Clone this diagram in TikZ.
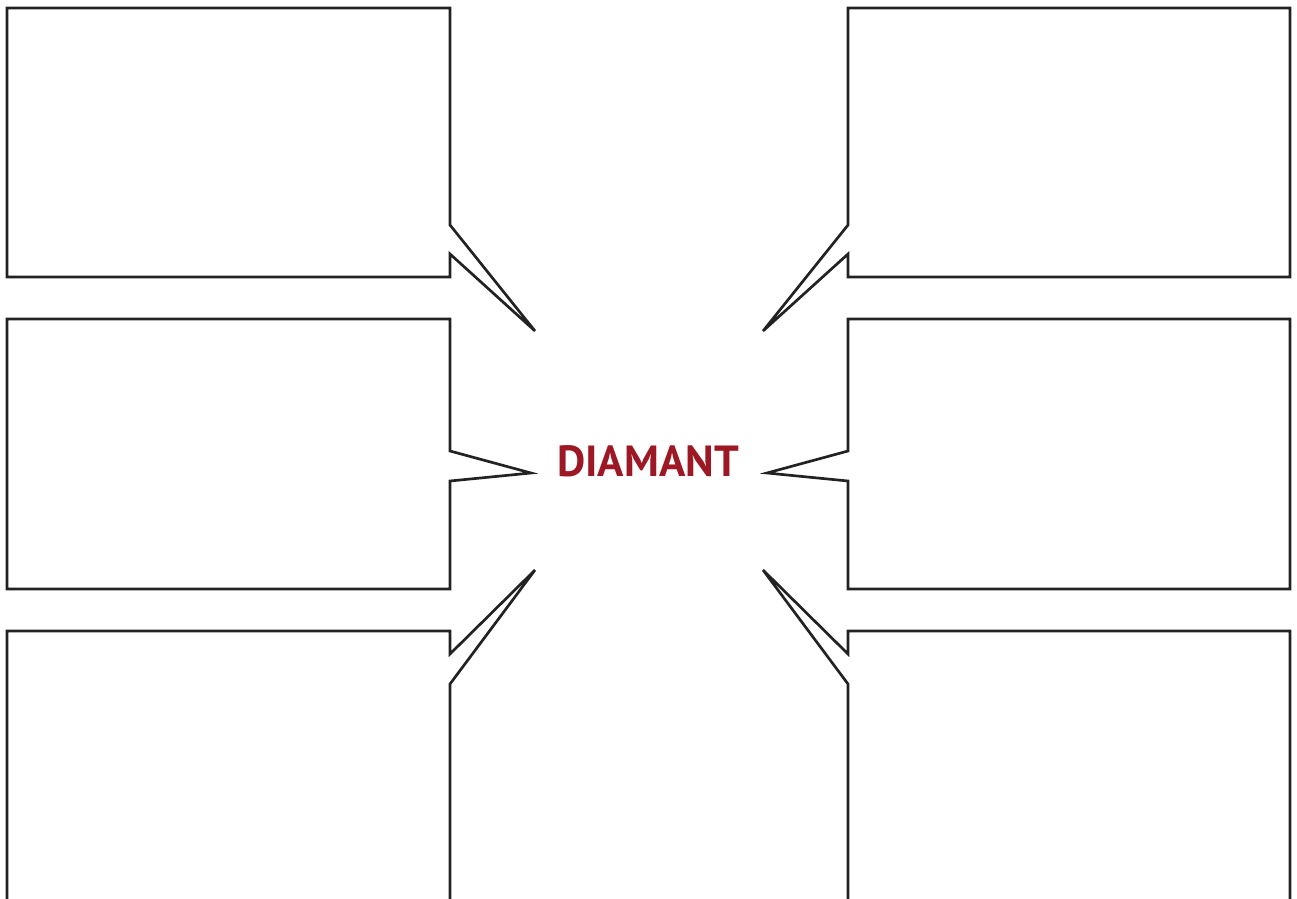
\documentclass[tikz,border=0pt]{standalone}
\usepackage{fontspec}
\setsansfont{PT Sans}
\definecolor{ink}{HTML}{222222}
\definecolor{rubyred}{HTML}{9B1824}
\tikzset{
  font=\sffamily,
  bubble/.style={draw=ink,line width=1.9pt,line join=miter,fill=white},
  title/.style={text=rubyred,font=\sffamily\bfseries\fontsize{31}{34}\selectfont,inner sep=0pt}
}
\begin{document}
\begin{tikzpicture}[x=0.25mm,y=-0.25mm]
  \useasboundingbox (0,0) rectangle (1297,899);
  \clip (0,0) rectangle (1297,899);
  \node[title] (diamant) at (648,461) {DIAMANT};

  % tips of the speech bubbles
  \coordinate (tl) at (535,331);
  \coordinate (ml) at (531,473);
  \coordinate (bl) at (535,570);
  \coordinate (tr) at (763,331);
  \coordinate (mr) at (767,473);
  \coordinate (br) at (763,570);

  % left column
  \draw[bubble] (7,8) -- (450,8) -- (450,225) -- (tl) -- (450,254) -- (450,277) -- (7,277) -- cycle;
  \draw[bubble] (7,319) -- (450,319) -- (450,451) -- (ml) -- (450,481) -- (450,589) -- (7,589) -- cycle;
  \draw[bubble] (7,631) -- (450,631) -- (450,654) -- (bl) -- (450,684) -- (450,903) -- (7,903) -- cycle;
  % right column
  \draw[bubble] (1290,8) -- (848,8) -- (848,225) -- (tr) -- (848,254) -- (848,277) -- (1290,277) -- cycle;
  \draw[bubble] (1290,319) -- (848,319) -- (848,451) -- (mr) -- (848,481) -- (848,589) -- (1290,589) -- cycle;
  \draw[bubble] (1290,631) -- (848,631) -- (848,654) -- (br) -- (848,684) -- (848,903) -- (1290,903) -- cycle;
\end{tikzpicture}
\end{document}
